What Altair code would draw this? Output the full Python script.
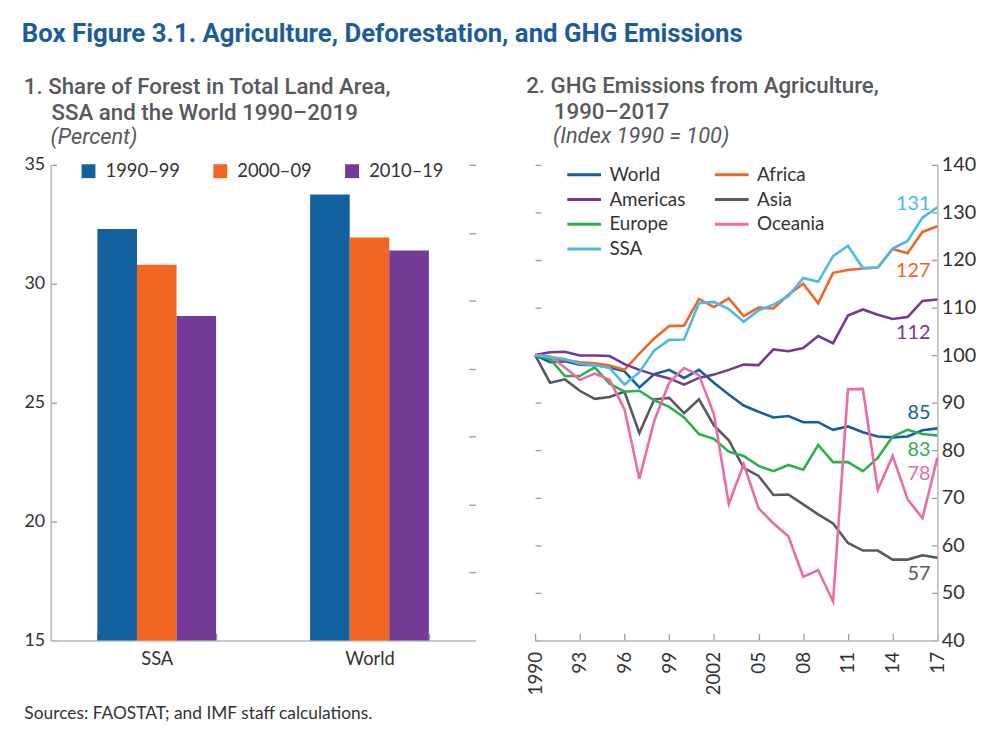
import altair as alt
import pandas as pd

# ---------------- data ----------------
REGIONS = ["SSA", "World"]
PERIODS = ["1990–99", "2000–09", "2010–19"]
SSA_SHARE = [32.3, 30.8, 28.65]
WORLD_SHARE = [33.75, 31.95, 31.4]

YEARS = list(range(1990, 2018))
WORLD = [100, 98.5, 98.7, 98.0, 97.9, 97.4, 96.6, 93.2, 96.0, 96.9, 95.2, 96.9, 94.2, 91.7,
         89.4, 88.1, 86.9, 87.2, 85.9, 85.9, 84.3, 85.0, 83.8, 82.9, 82.7, 82.9, 84.2, 84.6]
AFRICA = [100, 99.4, 99.0, 98.5, 98.3, 97.8, 96.9, 100.3, 103.5, 106.1, 106.2, 111.8, 110.1, 111.9,
          108.2, 110.0, 109.8, 112.7, 115.0, 110.9, 117.3, 117.9, 118.2, 118.4, 122.3, 121.4, 125.9, 127.1]
AMERICAS = [100, 100.6, 100.7, 99.9, 99.9, 99.8, 98.1, 96.9, 95.9, 95.1, 93.8, 95.2, 95.9, 96.9,
            98.0, 97.9, 101.2, 100.8, 101.5, 104.0, 102.5, 108.3, 109.6, 108.5, 107.6, 108.0, 111.4, 111.7]
ASIA = [100, 94.2, 94.9, 92.5, 90.8, 91.2, 92.3, 83.6, 90.7, 91.0, 87.8, 90.7, 85.2, 82.1,
        76.3, 74.6, 70.6, 70.7, 68.6, 66.5, 64.6, 60.5, 58.9, 58.9, 57.0, 57.0, 57.9, 57.4]
EUROPE = [100, 99.2, 95.6, 95.6, 97.4, 94.0, 92.3, 92.5, 90.5, 89.1, 86.9, 83.4, 82.4, 79.7,
          78.8, 76.7, 75.6, 76.9, 75.9, 81.1, 77.5, 77.5, 75.6, 78.4, 82.9, 84.3, 83.4, 83.1]
OCEANIA = [100, 99.7, 97.4, 94.8, 96.1, 94.8, 88.6, 74.0, 86.2, 94.2, 97.3, 95.8, 87.6, 68.7,
           77.1, 67.8, 64.6, 61.9, 53.4, 54.8, 48.2, 92.8, 92.9, 71.7, 78.8, 69.7, 65.7, 78.4]
SSA = [100, 99.6, 99.2, 98.2, 97.9, 97.3, 93.8, 96.4, 101.0, 103.2, 103.3, 110.9, 111.2, 109.7,
       107.0, 109.4, 110.6, 112.4, 116.2, 115.4, 120.8, 123.0, 118.3, 118.4, 122.4, 124.0, 128.9, 131.1]

SERIES = ["World", "Africa", "Americas", "Asia", "Europe", "Oceania", "SSA"]
LEGEND_ORDER = ["World", "Americas", "Europe", "SSA", "Africa", "Asia", "Oceania"]
END_LABELS = ["85", "127", "112", "57", "83", "78", "131"]
END_LABEL_AT = [87.9, 117.6, 104.6, 54.0, 80.0, 75.0, 131.7]

TICK_YEARS = [1990, 1993, 1996, 1999, 2002, 2005, 2008, 2011, 2014, 2017]
TICK_LABELS = ["1990", "93", "96", "99", "2002", "05", "08", "11", "14", "17"]

# ---------------- styles ----------------
BAR_COLORS = ["#13609F", "#F26522", "#733A96"]
LINE_COLORS = ["#13609F", "#F26522", "#733A96", "#58595B", "#2DB04B", "#EA6BA6", "#4DB9E9"]
AXIS_GRAY = "#B8B8B8"
TICK_GRAY = "#9C9C9C"
TXT = "#333333"
TITLE_GRAY = "#58595B"
BLUE = "#1D5C9B"
FONT = "Lato"
TFONT = "Roboto"
W1, W2, H = 429, 406, 480
IND = "\u200b" + "\u00a0" * 5

bar_df = pd.DataFrame(
    [{"region": r, "period": p, "share": v}
     for r, vals in zip(REGIONS, [SSA_SHARE, WORLD_SHARE])
     for p, v in zip(PERIODS, vals)]
)

series_vals = [WORLD, AFRICA, AMERICAS, ASIA, EUROPE, OCEANIA, SSA]
line_df = pd.DataFrame(
    [{"series": s, "year": y, "value": v}
     for s, vals in zip(SERIES, series_vals)
     for y, v in zip(YEARS, vals)]
)
lab_df = pd.DataFrame(
    {"series": SERIES, "year": [YEARS[-1]] * len(SERIES), "value": END_LABEL_AT, "label": END_LABELS}
)

# ---------------- panel 1 ----------------
x1 = alt.X(
    "region:N", sort=REGIONS,
    scale=alt.Scale(paddingInner=0.442, paddingOuter=0.22),
    axis=alt.Axis(
        title="Sources: FAOSTAT; and IMF staff calculations.",
        titleAnchor="start", titleAlign="left", titleX=-27, titleY=65, titleBaseline="top",
        titleFontSize=17.5, titleFontWeight="normal", titleColor=TXT, titleFont=FONT,
        labelAngle=0, labelFontSize=18.5, labelPadding=9, labelColor=TXT, labelFont=FONT,
        domainColor=AXIS_GRAY, domainWidth=1.5, ticks=False, tickBand="extent",
        grid=True, gridDash=[7, H - 7], gridDashOffset=7, gridColor=TICK_GRAY, gridWidth=1.3,
    ),
)
yscale1 = alt.Scale(domain=[15, 35], nice=False, zero=False, clamp=True)

bars = alt.Chart(bar_df).mark_bar().encode(
    x=x1,
    xOffset=alt.XOffset("period:N", sort=PERIODS, scale=alt.Scale(paddingInner=0, paddingOuter=0)),
    y=alt.Y("share:Q", scale=yscale1,
            axis=alt.Axis(title=None, values=[15, 20, 25, 30, 35], ticks=False,
                          labelFontSize=18, labelPadding=6, labelColor=TXT, labelFont=FONT,
                          domainColor=AXIS_GRAY, domainWidth=1.5,
                          grid=True, gridDash=[6, 2000], gridColor=TICK_GRAY, gridWidth=1.3)),
    color=alt.Color("period:N", sort=PERIODS,
                    scale=alt.Scale(domain=PERIODS, range=BAR_COLORS),
                    legend=alt.Legend(title=None, orient="none", legendX=29, legendY=-3,
                                      direction="horizontal", columns=3, symbolType="square",
                                      symbolSize=196, symbolStrokeWidth=0, labelFontSize=18.5,
                                      labelFont=FONT, labelColor=TXT, labelOffset=8,
                                      columnPadding=31, padding=0)),
)

minor = alt.Chart(bar_df).mark_point(opacity=0).encode(
    x=x1,
    y=alt.Y("share:Q", scale=yscale1,
            axis=alt.Axis(title=None, orient="right", values=[15 + 20 * k / 7 for k in range(1, 8)],
                          ticks=False, labels=False, domain=False,
                          grid=True, gridDash=[7, 2000], gridColor=TICK_GRAY, gridWidth=1.3)),
)

PT = dict(anchor="start", frame="bounds", font=TFONT, fontSize=22.5, fontWeight=500,
          color=TITLE_GRAY, lineHeight=26, subtitleFont=TFONT, subtitleFontSize=22,
          subtitleFontStyle="italic", subtitleColor=TITLE_GRAY, subtitlePadding=3, offset=8)

left = alt.layer(bars, minor).resolve_axis(y="independent").properties(
    width=W1, height=H,
    title=alt.TitleParams(
        text=["1. Share of Forest in Total Land Area,", IND + "SSA and the World 1990–2019"],
        subtitle=IND + "(Percent)", **PT),
)

# ---------------- panel 2 ----------------
label_expr = "[" + ",".join("'%s'" % t for t in TICK_LABELS) + "][(datum.value - 1990) / 3]"
x2 = alt.X(
    "year:Q", scale=alt.Scale(domain=[1990, 2017], nice=False, zero=False),
    axis=alt.Axis(title=None, values=TICK_YEARS, labelExpr=label_expr, labelAngle=270,
                  labelAlign="right", labelBaseline="middle", labelPadding=11,
                  labelFontSize=19, labelColor=TXT, labelFont=FONT,
                  domainColor=AXIS_GRAY, domainWidth=1.5, ticks=False,
                  grid=True, gridDash=[7, H - 7], gridDashOffset=7, gridColor=TICK_GRAY, gridWidth=1.3),
)
y2 = alt.Y(
    "value:Q", scale=alt.Scale(domain=[40, 140], nice=False, zero=False),
    axis=alt.Axis(title=None, orient="right", values=list(range(40, 150, 10)), ticks=False,
                  labelFontSize=20, labelPadding=4, labelColor=TXT, labelFont=FONT,
                  domainColor=AXIS_GRAY, domainWidth=1.5,
                  grid=True, gridDash=[6, W2 - 12, 6, 2000], gridColor=TICK_GRAY, gridWidth=1.3),
)
cscale = alt.Scale(domain=LEGEND_ORDER,
                   range=[LINE_COLORS[SERIES.index(s)] for s in LEGEND_ORDER])

lines = alt.Chart(line_df).mark_line(strokeWidth=2.6).encode(
    x=x2, y=y2,
    color=alt.Color("series:N", sort=LEGEND_ORDER, scale=cscale,
                    legend=alt.Legend(title=None, orient="none", legendX=31, legendY=0,
                                      columns=2, symbolType="M-1,0H3", symbolSize=289,
                                      symbolStrokeWidth=3, labelFontSize=19, labelFont=FONT,
                                      labelColor=TXT, labelOffset=24, rowPadding=5,
                                      columnPadding=23, padding=0)),
)
ends = alt.Chart(lab_df).mark_text(align="right", baseline="middle", dx=-7, fontSize=20, font=FONT).encode(
    x=x2, y=y2, text="label:N",
    color=alt.Color("series:N", scale=cscale, legend=None),
)

right = alt.layer(lines, ends).properties(
    width=W2, height=H,
    title=alt.TitleParams(
        text=["2. GHG Emissions from Agriculture,", IND + "1990–2017"],
        subtitle=IND + "(Index 1990 = 100)", **PT),
)

chart = alt.hconcat(left, right, spacing=51).resolve_scale(color="independent").resolve_legend(
    color="independent"
).properties(
    title=alt.TitleParams(
        "Box Figure 3.1. Agriculture, Deforestation, and GHG Emissions",
        anchor="start", frame="bounds", font=TFONT, fontSize=26, fontWeight="bold",
        color=BLUE, dx=-2, offset=29,
    ),
    padding={"left": 14, "top": 9, "right": 0, "bottom": 0},
    background="white",
).configure_view(stroke=None)

chart.save("out.html", embed_options={"renderer": "svg", "actions": False})
